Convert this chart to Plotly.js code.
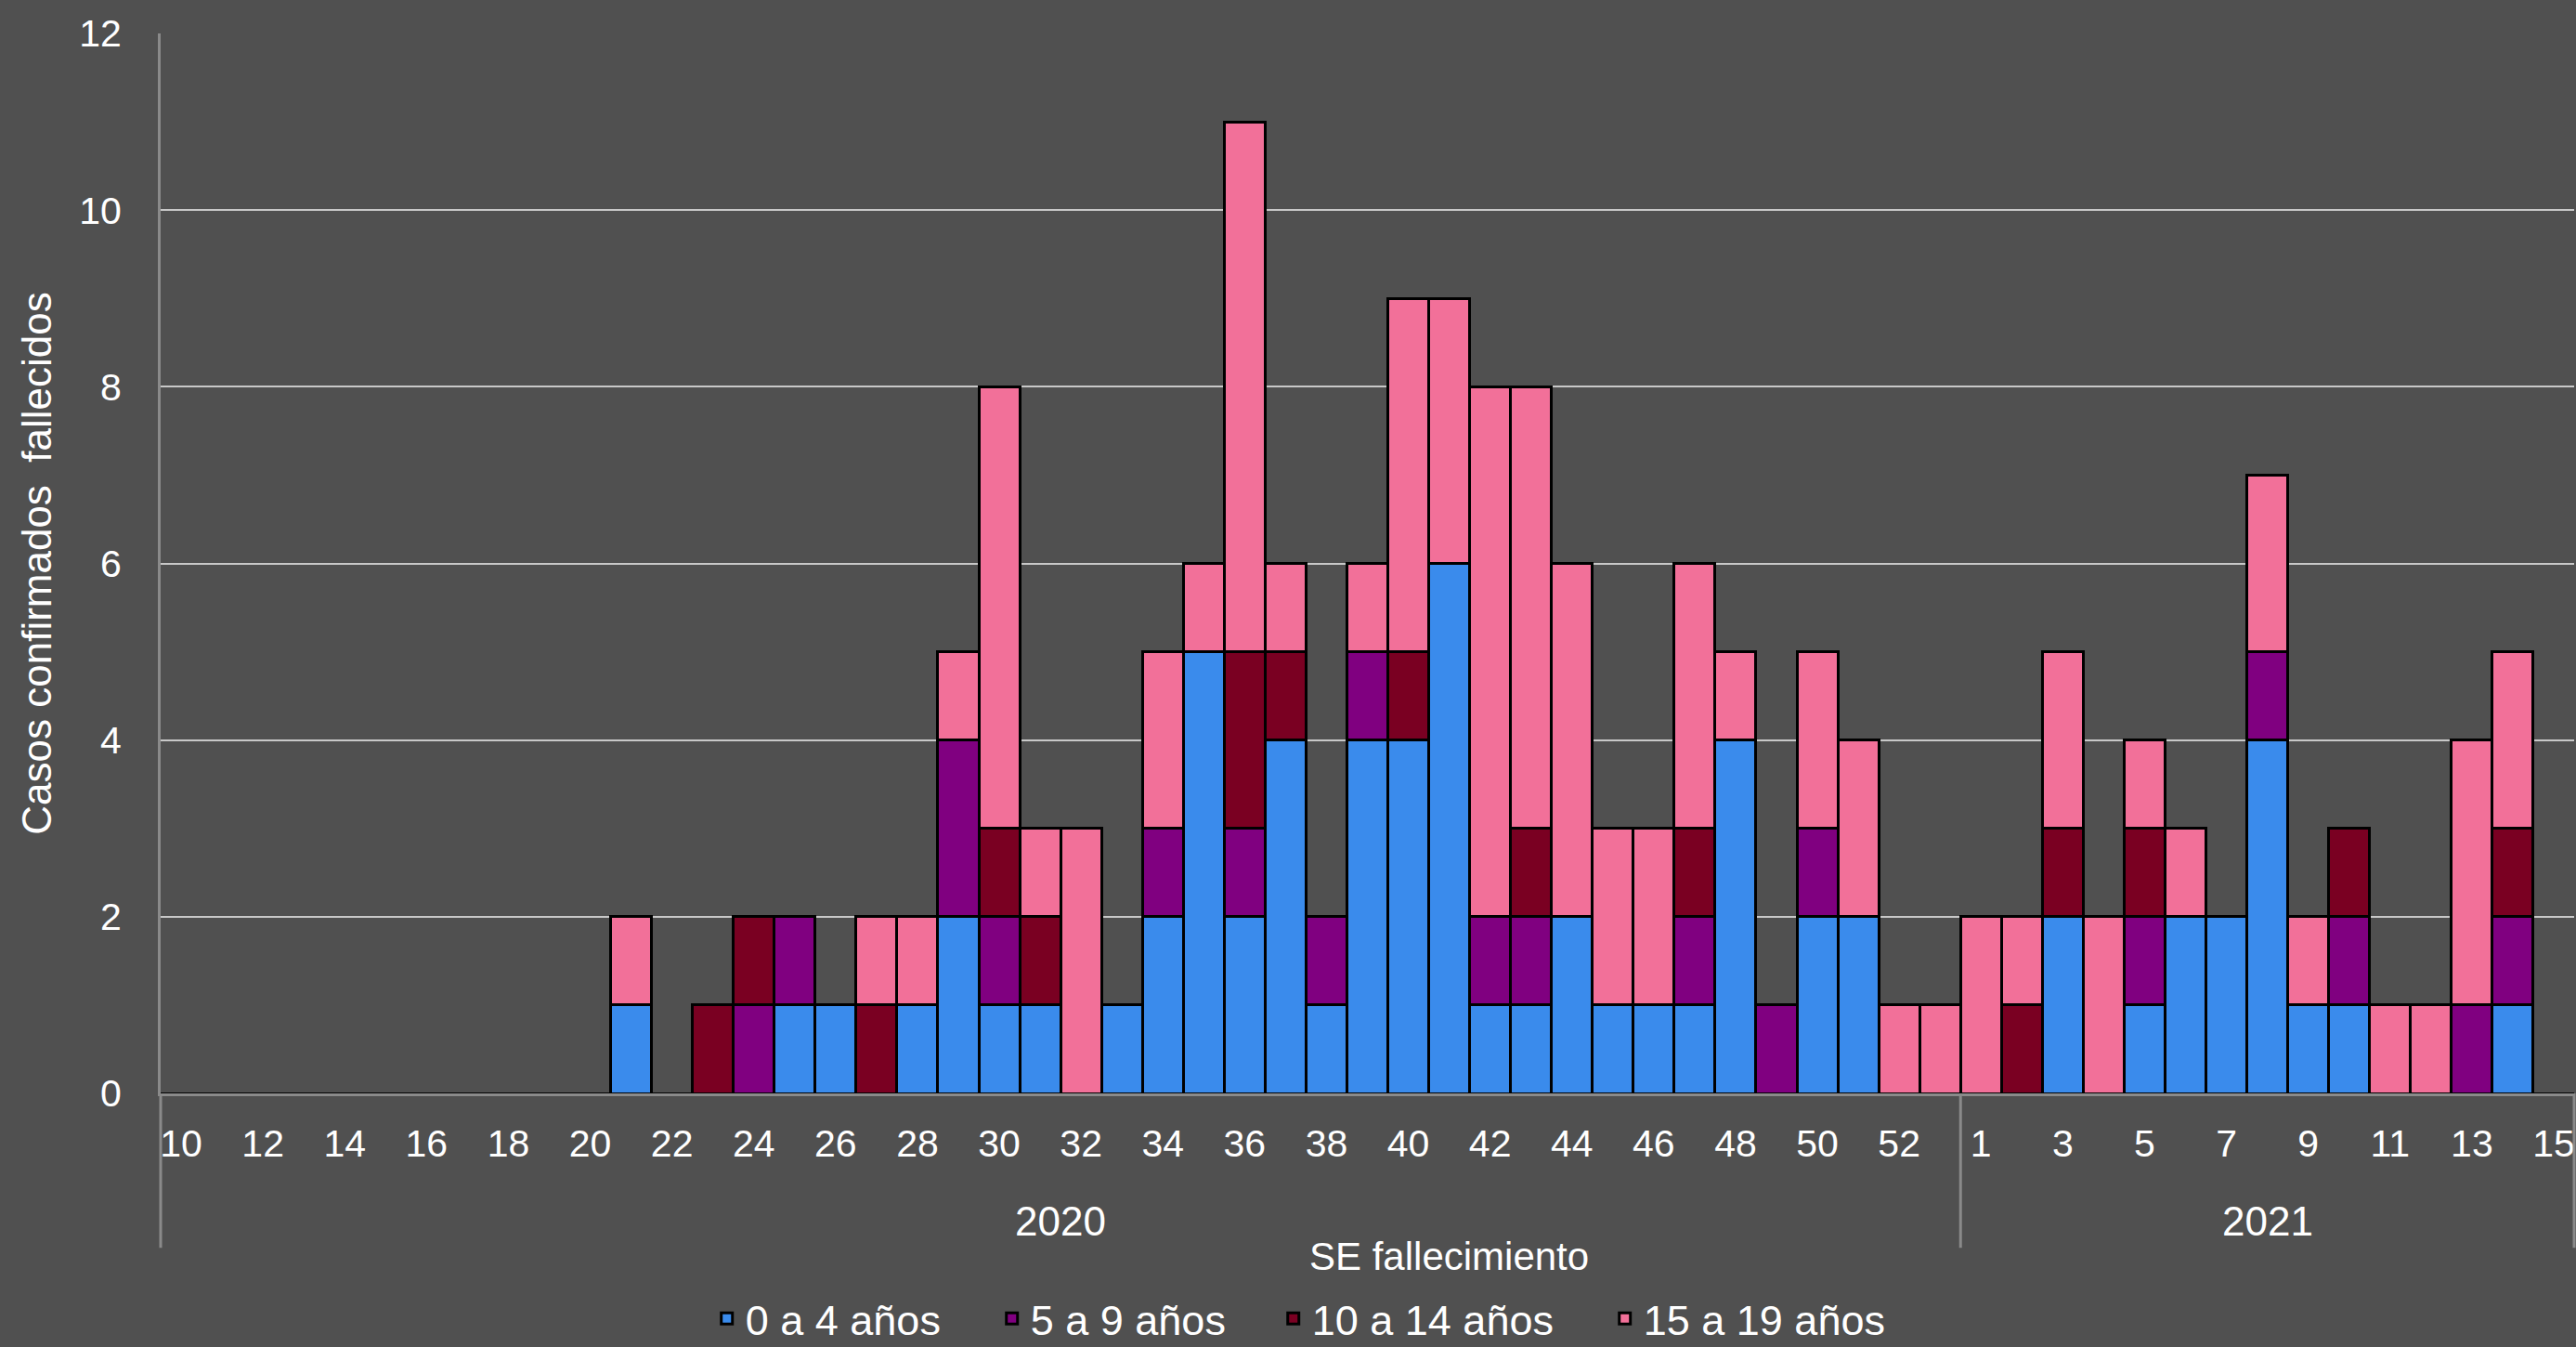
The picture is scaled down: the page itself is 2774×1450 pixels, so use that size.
<!DOCTYPE html>
<html>
<head>
<meta charset="utf-8">
<script src="https://cdn.plot.ly/plotly-3.0.1.min.js"></script>
<style>
html,body{margin:0;padding:0;background:#505050;}
#chart{width:2774px;height:1450px;}
</style>
</head>
<body>
<div id="chart"></div>
<script>
// Epidemiological weeks (SE) of death
const weeks2020 = [10,11,12,13,14,15,16,17,18,19,20,21,22,23,24,25,26,27,28,29,30,31,32,33,34,35,36,37,38,39,40,41,42,43,44,45,46,47,48,49,50,51,52,53];
const weeks2021 = [1,2,3,4,5,6,7,8,9,10,11,12,13,14,15];
const years = ["2020", "2021"];

// Tick labels shown on the axis (every other week)
const tickLabels2020 = [10,12,14,16,18,20,22,24,26,28,30,32,34,36,38,40,42,44,46,48,50,52];
const tickLabels2021 = [1,3,5,7,9,11,13,15];

// Series values: 2020 weeks 10..53 followed by 2021 weeks 1..15
const age0to4 = [0,0,0,0,0,0,0,0,0,0,0, 1,0,0,0,1,1,0,1,2,1,1,0,1,2,5,2,4,1,4,4,6,1,1,2,1,1,1,4,0,2,2,0,0,
                 0,0,2,0,1,2,2,4,1,1,0,0,0,1,0];
const age5to9 = [0,0,0,0,0,0,0,0,0,0,0, 0,0,0,1,1,0,0,0,2,1,0,0,0,1,0,1,0,1,1,0,0,1,1,0,0,0,1,0,1,1,0,0,0,
                 0,0,0,0,1,0,0,1,0,1,0,0,1,1,0];
const age10to14 = [0,0,0,0,0,0,0,0,0,0,0, 0,0,1,1,0,0,1,0,0,1,1,0,0,0,0,2,1,0,0,1,0,0,1,0,0,0,1,0,0,0,0,0,0,
                   0,1,1,0,1,0,0,0,0,1,0,0,0,1,0];
const age15to19 = [0,0,0,0,0,0,0,0,0,0,0, 1,0,0,0,0,0,1,1,1,5,1,3,0,2,1,6,1,0,1,4,3,6,5,4,2,2,3,1,0,2,2,1,1,
                   2,1,2,2,1,1,0,2,1,0,1,1,3,2,0];

const seriesNames = ["0 a 4 años", "5 a 9 años", "10 a 14 años", "15 a 19 años"];
const seriesValues = [age0to4, age5to9, age10to14, age15to19];

// styles
const seriesColors = ["#3a8bec", "#800080", "#7a0022", "#f27099"];
const legendEntryWidths = [262, 258, 312, 262];

// category keys
const cats = weeks2020.map(w => years[0] + "-" + w).concat(weeks2021.map(w => years[1] + "-" + w));
const tickvals = tickLabels2020.map(w => years[0] + "-" + w).concat(tickLabels2021.map(w => years[1] + "-" + w));
const ticktext = tickLabels2020.map(String).concat(tickLabels2021.map(String));

const traces = seriesNames.map((name, i) => ({
  type: "bar",
  name: name,
  x: cats,
  y: seriesValues[i],
  legendwidth: legendEntryWidths[i],
  marker: {color: seriesColors[i], line: {color: "#000000", width: 3}},
  hoverinfo: "x+y+name"
}));

const n = cats.length;
const n2020 = weeks2020.length;
const fam = "Liberation Sans, Arial, sans-serif";
const white = "#ffffff";
const dividerBottom = -0.1457;
const yearY = -0.1202;

const layout = {
  width: 2774,
  height: 1450,
  margin: {l: 173, r: 2, t: 36, b: 273, autoexpand: false},
  paper_bgcolor: "#505050",
  plot_bgcolor: "#505050",
  font: {family: fam, color: white, size: 40},
  barmode: "stack",
  bargap: 0,
  showlegend: true,
  legend: {
    orientation: "h",
    xref: "paper", yref: "container",
    x: 0.472, xanchor: "center",
    y: 0.021, yanchor: "middle",
    traceorder: "normal",
    font: {family: fam, color: white, size: 45},
    bgcolor: "rgba(0,0,0,0)"
  },
  xaxis: {
    type: "category",
    tickmode: "array",
    tickvals: tickvals,
    ticktext: ticktext,
    tickangle: 0,
    ticks: "outside",
    ticklen: 16,
    tickcolor: "rgba(0,0,0,0)",
    showline: true,
    linecolor: "#8a8a8a",
    linewidth: 3,
    showgrid: false,
    tickfont: {family: fam, color: white, size: 41},
    range: [-0.5, n - 0.5],
    automargin: false,
    fixedrange: true
  },
  yaxis: {
    range: [0, 12],
    dtick: 2,
    tick0: 0,
    showgrid: true,
    gridcolor: "#c8c8c8",
    gridwidth: 2,
    zeroline: false,
    showline: true,
    linecolor: "#8a8a8a",
    linewidth: 3,
    ticks: "outside",
    ticklen: 31,
    tickcolor: "rgba(0,0,0,0)",
    tickfont: {family: fam, color: white, size: 41},
    title: {text: "Casos confirmados \u00a0fallecidos", font: {family: fam, color: white, size: 44}, standoff: 16},
    automargin: false,
    fixedrange: true
  },
  annotations: [
    {text: years[0], xref: "x", yref: "paper", x: (n2020 - 1) / 2, y: yearY, showarrow: false,
     xanchor: "center", yanchor: "middle", font: {family: fam, color: white, size: 44}},
    {text: years[1], xref: "x", yref: "paper", x: n2020 + (weeks2021.length - 1) / 2, y: yearY, showarrow: false,
     xanchor: "center", yanchor: "middle", font: {family: fam, color: white, size: 44}},
    {text: "SE fallecimiento", xref: "paper", yref: "paper", x: 0.534, y: -0.1542, showarrow: false,
     xanchor: "center", yanchor: "middle", font: {family: fam, color: white, size: 42}}
  ],
  shapes: [0, n2020 / n, 1].map(fx => ({
    type: "line", xref: "paper", yref: "paper",
    x0: fx, x1: fx, y0: 0, y1: dividerBottom,
    line: {color: "#8a8a8a", width: 3}
  }))
};

Plotly.newPlot("chart", traces, layout, {displayModeBar: false, staticPlot: true});
</script>
</body>
</html>
